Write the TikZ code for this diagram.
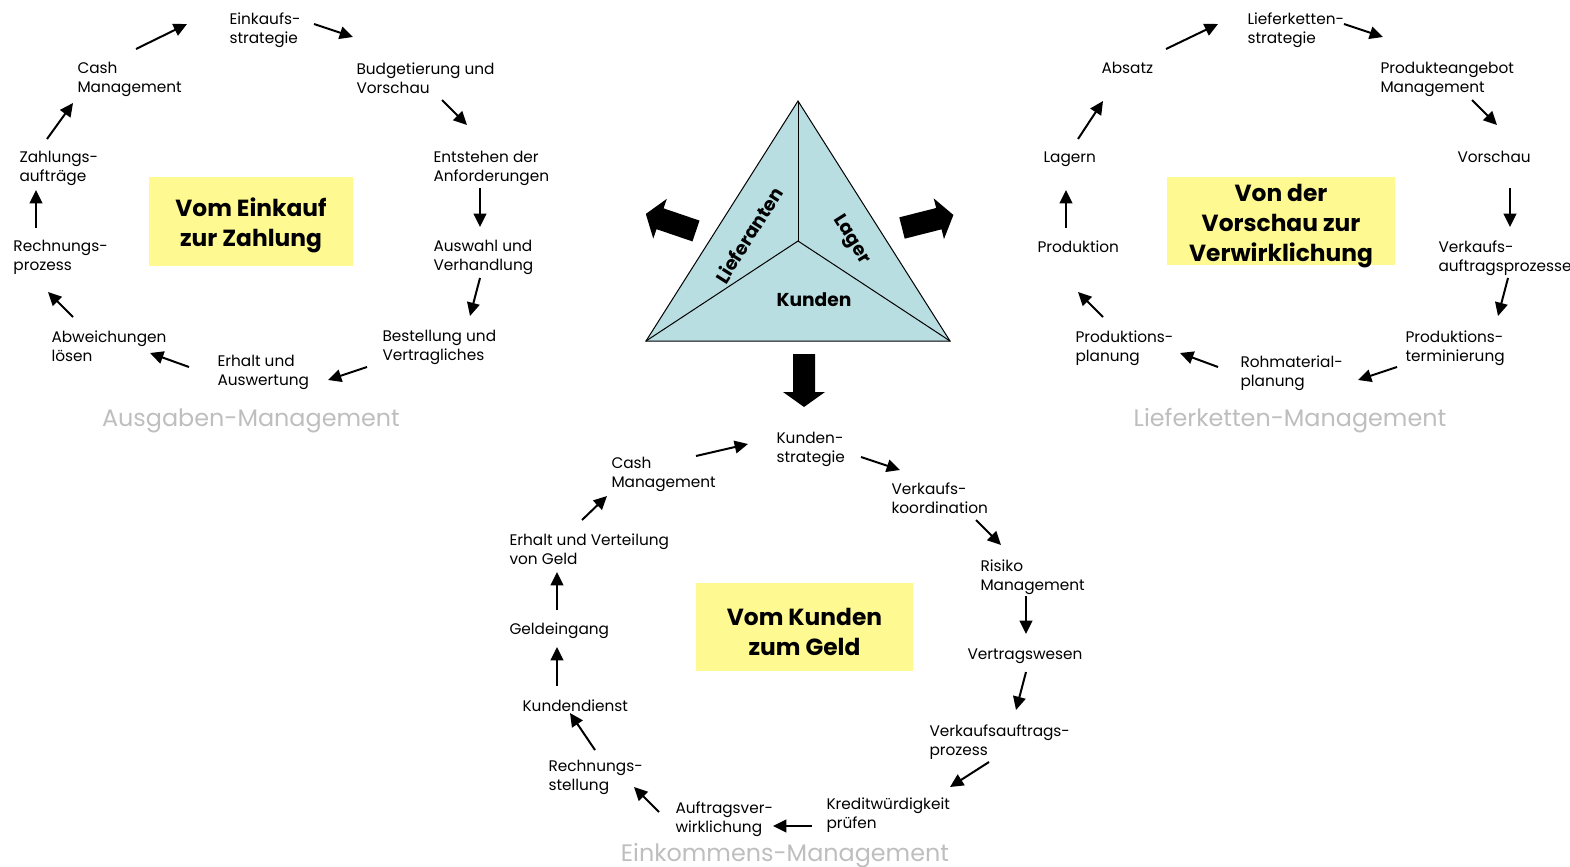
\documentclass[tikz,border=0pt]{standalone}
\usepackage{fontspec}
\setmainfont{Poppins}
\usetikzlibrary{arrows.meta}

\definecolor{boxyellow}{RGB}{255,249,145}
\definecolor{trifill}{RGB}{185,222,226}
\definecolor{labgray}{RGB}{190,190,190}

\tikzset{every picture/.style={line width=0.75pt}}
\tikzset{
  step text/.style={anchor=north west, inner sep=0.75pt, align=left, font=\fontsize{11.5}{14.3}\selectfont},
  title box/.style={fill=boxyellow, inner sep=0pt},
  title text/.style={inner sep=0pt, align=center, font=\fontsize{17.5}{22.5}\selectfont\bfseries},
  cycle label/.style={inner sep=0.75pt, text=labgray, font=\fontsize{17.9}{22}\selectfont},
  flow/.style={line width=1.5pt, -{Triangle[length=10pt, width=9.5pt]}},
  block arrow/.style={fill=black, draw=none}
}

\begin{document}
\begin{tikzpicture}[x=0.75pt,y=0.75pt,yscale=-1,xscale=1]
\useasboundingbox (0,0) rectangle (1570,867);

%Triangle in the middle
\coordinate (tA) at (798,101);
\coordinate (tB) at (646,341);
\coordinate (tC) at (950,341);
\coordinate (tM) at (798,241);
\filldraw [fill=trifill] (tA) -- (tB) -- (tC) -- cycle;
\draw (tM) -- (tA);
\draw (tM) -- (tB);
\draw (tM) -- (tC);
\draw (749,235) node (lief) [rotate=57.7][inner sep=0.75pt] {\fontsize{14}{16}\selectfont\bfseries Lieferanten};
\draw (851,240) node (lag) [rotate=-57.7][inner sep=0.75pt] {\fontsize{14}{16}\selectfont\bfseries Lager};
\draw (814,300) node (kun) [inner sep=0.75pt] {\fontsize{14}{16}\selectfont\bfseries Kunden};

%Block arrows
\fill [block arrow, shift={(696,231)}, rotate=198.8] (0,-11) -- (38,-11) -- (38,-21) -- (53,0) -- (38,21) -- (38,11) -- (0,11) -- cycle;
\fill [block arrow, shift={(902,228)}, rotate=-14.2] (0,-11) -- (38,-11) -- (38,-21) -- (53,0) -- (38,21) -- (38,11) -- (0,11) -- cycle;
\fill [block arrow, shift={(804,354)}, rotate=90] (0,-11) -- (38,-11) -- (38,-21) -- (53,0) -- (38,21) -- (38,11) -- (0,11) -- cycle;

%Ausgaben-Management
\draw (251,221.5) node (boxL) [title box, minimum width=153pt, minimum height=66.75pt] {};
\draw (251,225) node (ttlL) [title text] {Vom Einkauf\\zur Zahlung};
\draw (228,11) node (einkL) [step text] {Einkaufs-\\strategie};
\draw (355,61) node (budL) [step text] {Budgetierung und\\Vorschau};
\draw (432,150) node (entL) [step text] {Entstehen der\\Anforderungen};
\draw (432,239) node (ausL) [step text] {Auswahl und\\Verhandlung};
\draw (381,329) node (bestL) [step text] {Bestellung und\\Vertragliches};
\draw (216,354) node (erhL) [step text] {Erhalt und\\Auswertung};
\draw (50,329) node (abwL) [step text] {Abweichungen\\lösen};
\draw (12,239) node (rechL) [step text] {Rechnungs-\\prozess};
\draw (18,150) node (zahlL) [step text] {Zahlungs-\\aufträge};
\draw (76,61) node (cashL) [step text] {Cash\\Management};
\draw (251,421) node (labL) [cycle label] {Ausgaben-Management};

\coordinate (l1a) at (136,49);  \coordinate (l1b) at (187,24);
\coordinate (l2a) at (314,24);  \coordinate (l2b) at (353,37);
\coordinate (l3a) at (442,100); \coordinate (l3b) at (467,125);
\coordinate (l4a) at (480,188); \coordinate (l4b) at (480,227);
\coordinate (l5a) at (480,278); \coordinate (l5b) at (470,316);
\coordinate (l6a) at (367,367); \coordinate (l6b) at (328,380);
\coordinate (l7a) at (189,367); \coordinate (l7b) at (150,353);
\coordinate (l8a) at (73,317);  \coordinate (l8b) at (48,292);
\coordinate (l9a) at (36,228);  \coordinate (l9b) at (36,190);
\coordinate (l10a) at (47,139); \coordinate (l10b) at (73,103);
\foreach \i in {1,...,10}
  \draw [flow] (l\i a) -- (l\i b);

%Lieferketten-Management
\draw (1281,221) node (boxR) [title box, minimum width=171pt, minimum height=66pt] {};
\draw (1281,226) node (ttlR) [title text] {Von der\\Vorschau zur\\Verwirklichung};
\draw (1246,11) node (liefR) [step text] {Lieferketten-\\strategie};
\draw (1379,61) node (angR) [step text] {Produkteangebot\\Management};
\draw (1456,150) node (vorR) [step text] {Vorschau};
\draw (1437,239) node (verkR) [step text] {Verkaufs-\\auftragsprozesse};
\draw (1404,329) node (termR) [step text] {Produktions-\\terminierung};
\draw (1239,354) node (rohR) [step text] {Rohmaterial-\\planung};
\draw (1074,329) node (planR) [step text] {Produktions-\\planung};
\draw (1036,239) node (prodR) [step text] {Produktion};
\draw (1042,150) node (lagR) [step text] {Lagern};
\draw (1100,61) node (absR) [step text] {Absatz};
\draw (1290,421) node (labR) [cycle label] {Lieferketten-Management};

\coordinate (r1a) at (1166,49);  \coordinate (r1b) at (1218,24);
\coordinate (r2a) at (1344,24);  \coordinate (r2b) at (1383,37);
\coordinate (r3a) at (1472,100); \coordinate (r3b) at (1497,125);
\coordinate (r4a) at (1510,188); \coordinate (r4b) at (1510,227);
\coordinate (r5a) at (1508,278); \coordinate (r5b) at (1498,316);
\coordinate (r6a) at (1397,367); \coordinate (r6b) at (1358,380);
\coordinate (r7a) at (1218,367); \coordinate (r7b) at (1180,353);
\coordinate (r8a) at (1103,317); \coordinate (r8b) at (1078,292);
\coordinate (r9a) at (1066,228); \coordinate (r9b) at (1066,190);
\coordinate (r10a) at (1078,139); \coordinate (r10b) at (1103,101);
\foreach \i in {1,...,10}
  \draw [flow] (r\i a) -- (r\i b);

%Einkommens-Management
\draw (804.5,627) node (boxB) [title box, minimum width=162.75pt, minimum height=66pt] {};
\draw (804.5,632) node (ttlB) [title text] {Vom Kunden\\zum Geld};
\draw (775,431) node (kundB) [step text] {Kunden-\\strategie};
\draw (890,481) node (verkB) [step text] {Verkaufs-\\koordination};
\draw (979,558) node (risB) [step text] {Risiko\\Management};
\draw (966,647) node (vertB) [step text] {Vertragswesen};
\draw (928,723) node (vaufB) [step text] {Verkaufsauftrags-\\prozess};
\draw (825,796) node (kredB) [step text] {Kreditwürdigkeit\\prüfen};
\draw (674,800) node (auftB) [step text] {Auftragsver-\\wirklichung};
\draw (547,759) node (rechB) [step text] {Rechnungs-\\stellung};
\draw (521,698) node (kdB) [step text] {Kundendienst};
\draw (508,621) node (geldB) [step text] {Geldeingang};
\draw (508,532) node (erhB) [step text] {Erhalt und Verteilung\\von Geld};
\draw (610,456) node (cashB) [step text] {Cash\\Management};
\draw (785,856) node (labB) [cycle label] {Einkommens-Management};

\coordinate (b1a) at (696,456);  \coordinate (b1b) at (748,444);
\coordinate (b2a) at (861,457);  \coordinate (b2b) at (900,470);
\coordinate (b3a) at (976,520);  \coordinate (b3b) at (1001,545);
\coordinate (b4a) at (1026,596); \coordinate (b4b) at (1026,634);
\coordinate (b5a) at (1026,672); \coordinate (b5b) at (1016,710);
\coordinate (b6a) at (989,762);  \coordinate (b6b) at (950,787);
\coordinate (b7a) at (812,826);  \coordinate (b7b) at (773,826);
\coordinate (b8a) at (659,812);  \coordinate (b8b) at (634,787);
\coordinate (b9a) at (595,750);  \coordinate (b9b) at (570,713);
\coordinate (b10a) at (557,686); \coordinate (b10b) at (557,647);
\coordinate (b11a) at (557,610); \coordinate (b11b) at (557,572);
\coordinate (b12a) at (582,520); \coordinate (b12b) at (607,496);
\foreach \i in {1,...,12}
  \draw [flow] (b\i a) -- (b\i b);

\end{tikzpicture}
\end{document}
